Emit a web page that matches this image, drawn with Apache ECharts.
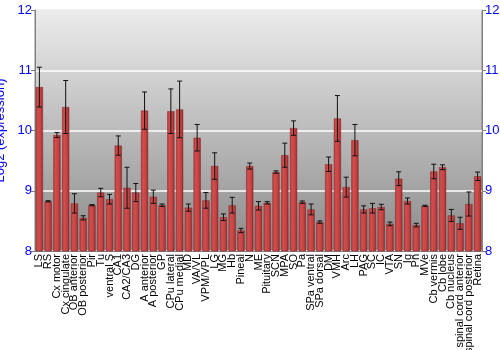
<!DOCTYPE html>
<html><head><meta charset="utf-8">
<script src="https://cdn.jsdelivr.net/npm/echarts@6/dist/echarts.min.js"></script>
<style>html,body{margin:0;padding:0;background:#fff}#c{width:500px;height:350px}</style>
</head><body><div id="c"></div>
<script>
const categories = ["LS","RS","Cx motor","Cx cingulate","OB anterior","OB posterior","Pir","Tu","ventral S","CA1","CA2/CA3","DG","A anterior","A posterior","GP","CPu lateral","CPu medial","MD","VA/VL","VPM/VPL","LG","MG","Hb","Pineal","N","ME","Pituitary","SCN","MPA","SO","Pa","SPa ventral","SPa dorsal","DM","VMH","Arc","LH","PAG","SC","IC","VTA","SN","Ig","Pn","MVe","Cb vermis","Cb lobe","Cb nucleus","spinal cord anterior","spinal cord posterior","Retina"];
const values = [10.72,8.825,9.925,10.39,8.79,8.55,8.76,8.97,8.86,9.75,9.05,8.97,10.33,8.90,8.76,10.32,10.35,8.72,9.88,8.84,9.41,8.56,8.76,8.34,9.41,8.75,8.80,9.31,9.59,10.04,8.81,8.69,8.48,9.44,10.20,9.06,9.84,8.69,8.71,8.73,8.45,9.20,8.83,8.43,8.75,9.32,9.39,8.59,8.46,8.78,9.24];
const errors = [0.33,0.01,0.04,0.44,0.16,0.035,0.01,0.07,0.08,0.16,0.34,0.15,0.31,0.11,0.02,0.37,0.47,0.06,0.22,0.13,0.22,0.055,0.13,0.035,0.05,0.07,0.02,0.02,0.2,0.12,0.02,0.09,0.02,0.12,0.38,0.165,0.26,0.06,0.08,0.045,0.03,0.115,0.05,0.03,0.01,0.12,0.04,0.1,0.1,0.2,0.07];
const yTicks = [8,9,10,11,12];

const chart = echarts.init(document.getElementById('c'), null, {renderer:'canvas'});
const font = 'Liberation Sans, Arial, sans-serif';
const errData = values.map((v,i)=>[i, v-errors[i], v+errors[i]]);
chart.setOption({
  animation:false,
  grid:{left:35,right:18,top:10,bottom:99,containLabel:false,outerBoundsMode:'none',show:true,borderColor:'#808080',borderWidth:1,
    backgroundColor:new echarts.graphic.LinearGradient(0,0,0,1,[{offset:0,color:'#ececec'},{offset:1,color:'#8a8a8a'}])},
  xAxis:{type:'category',data:categories,
    axisLine:{lineStyle:{color:'#808080'}},axisTick:{show:false},
    axisLabel:{rotate:90,interval:0,fontSize:11,color:'#000',fontFamily:font,margin:3}},
  yAxis:[
    {type:'value',min:yTicks[0],max:yTicks[yTicks.length-1],interval:1,position:'left',
     name:'Log2 (expression)',nameLocation:'middle',nameGap:19,nameTextStyle:{color:'#0000ff',fontSize:13,fontFamily:font},
     axisLine:{show:true,lineStyle:{color:'#808080'}},axisTick:{show:true,length:4,lineStyle:{color:'#808080'}},
     axisLabel:{color:'#0000ff',fontSize:13,fontFamily:font,margin:3},
     splitLine:{show:true,lineStyle:{color:'#ffffff',width:1.5}}},
    {type:'value',min:yTicks[0],max:yTicks[yTicks.length-1],interval:1,position:'right',
     axisLine:{show:true,lineStyle:{color:'#808080'}},axisTick:{show:true,length:4,lineStyle:{color:'#808080'}},
     axisLabel:{color:'#0000ff',fontSize:13,fontFamily:font,margin:3},splitLine:{show:false}}
  ],
  series:[
    {type:'bar',data:values,barCategoryGap:'18%',
     itemStyle:{borderColor:'#8a2a2a',borderWidth:0.5,
      color:new echarts.graphic.LinearGradient(0,0,1,0,[{offset:0,color:'#b03838'},{offset:0.3,color:'#d24e4e'},{offset:0.7,color:'#c44242'},{offset:1,color:'#902828'}])}},
    {type:'custom',data:errData,z:10,
     renderItem:function(params,api){
       const x=api.value(0);
       const lo=api.coord([x,api.value(1)]);
       const hi=api.coord([x,api.value(2)]);
       const w=2.5;
       const st={stroke:'#111',lineWidth:1};
       return {type:'group',children:[
         {type:'line',shape:{x1:lo[0],y1:lo[1],x2:hi[0],y2:hi[1]},style:st},
         {type:'line',shape:{x1:lo[0]-w,y1:lo[1],x2:lo[0]+w,y2:lo[1]},style:st},
         {type:'line',shape:{x1:hi[0]-w,y1:hi[1],x2:hi[0]+w,y2:hi[1]},style:st}
       ]};
     }}
  ]
});
</script></body></html>
